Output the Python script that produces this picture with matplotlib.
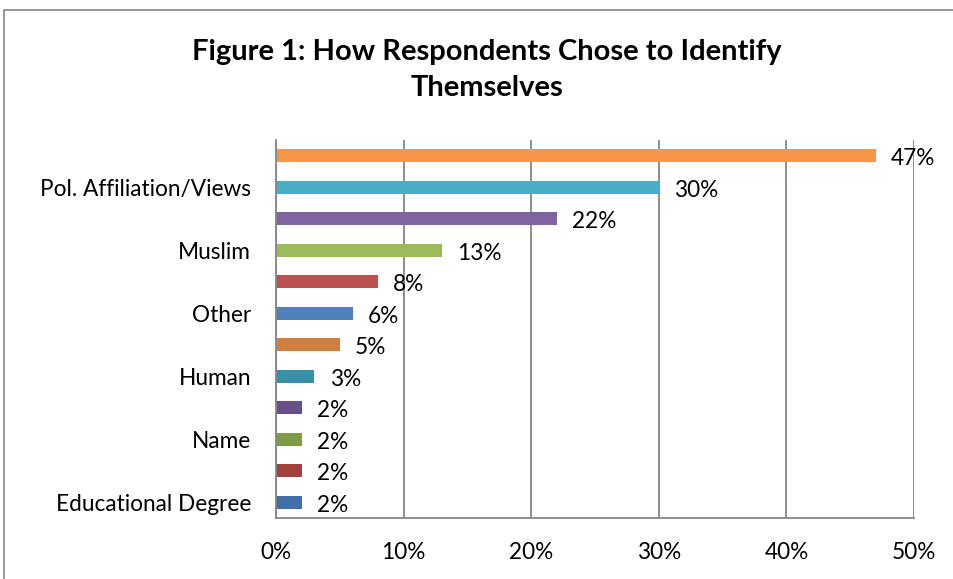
import matplotlib.pyplot as plt
from matplotlib.patches import Rectangle
from matplotlib.ticker import FuncFormatter, MultipleLocator

# identification categories, bottom to top (only every other one carries a label)
labels = ['Educational Degree', '', 'Name', '', 'Human', '', 'Other', '', 'Muslim', '',
          'Pol. Affiliation/Views', '']
shares = [2, 2, 2, 2, 3, 5, 6, 8, 13, 22, 30, 47]
colors = ['#4170A8', '#A0413E', '#7E9B48', '#67508A', '#3590A8', '#D27E3C',
          '#4F81BD', '#C0504D', '#9BBB59', '#8064A2', '#4BACC6', '#F79646']

plt.rcParams['font.family'] = ['Lato', 'DejaVu Sans']

fig = plt.figure(figsize=(9.54, 5.79), dpi=100)
fig.patches.append(Rectangle((4 / 954, -0.05), 1.2, 1 - 9.5 / 579 + 0.05,
                             transform=fig.transFigure, fill=False,
                             edgecolor='#868686', linewidth=1.2))

ax = fig.add_axes([276 / 954, 1 - 518 / 579, (914 - 276) / 954, (518 - 140) / 579])
pos = range(len(shares))
ax.barh(pos, shares, height=0.42, color=colors)
for y, v in zip(pos, shares):
    ax.annotate(f'{v}%', (v, y), xytext=(11, -2), textcoords='offset points',
                ha='left', va='center', fontsize=16.3)

ax.set_xlim(0, 50)
ax.set_ylim(-0.5, len(shares) - 0.5)
ax.xaxis.set_major_locator(MultipleLocator(10))
ax.xaxis.set_major_formatter(FuncFormatter(lambda v, _: f'{v:.0f}%'))
ax.set_yticks(list(pos))
ax.set_yticklabels(labels)
ax.tick_params(axis='both', length=0, labelsize=16.3)
ax.tick_params(axis='x', pad=17)
ax.tick_params(axis='y', pad=18)
ax.grid(axis='x', color='#868686', linewidth=1.3)
ax.set_axisbelow(True)
for side in ['top', 'right']:
    ax.spines[side].set_visible(False)
for side in ['left', 'bottom']:
    ax.spines[side].set_color('#868686')
    ax.spines[side].set_linewidth(1.3)

fig.text(487 / 954, 1 - 70 / 579, 'Figure 1: How Respondents Chose to Identify\nThemselves',
         ha='center', va='center', fontsize=21, fontweight='bold', linespacing=1.45)

fig.savefig('out.png', dpi=100)
